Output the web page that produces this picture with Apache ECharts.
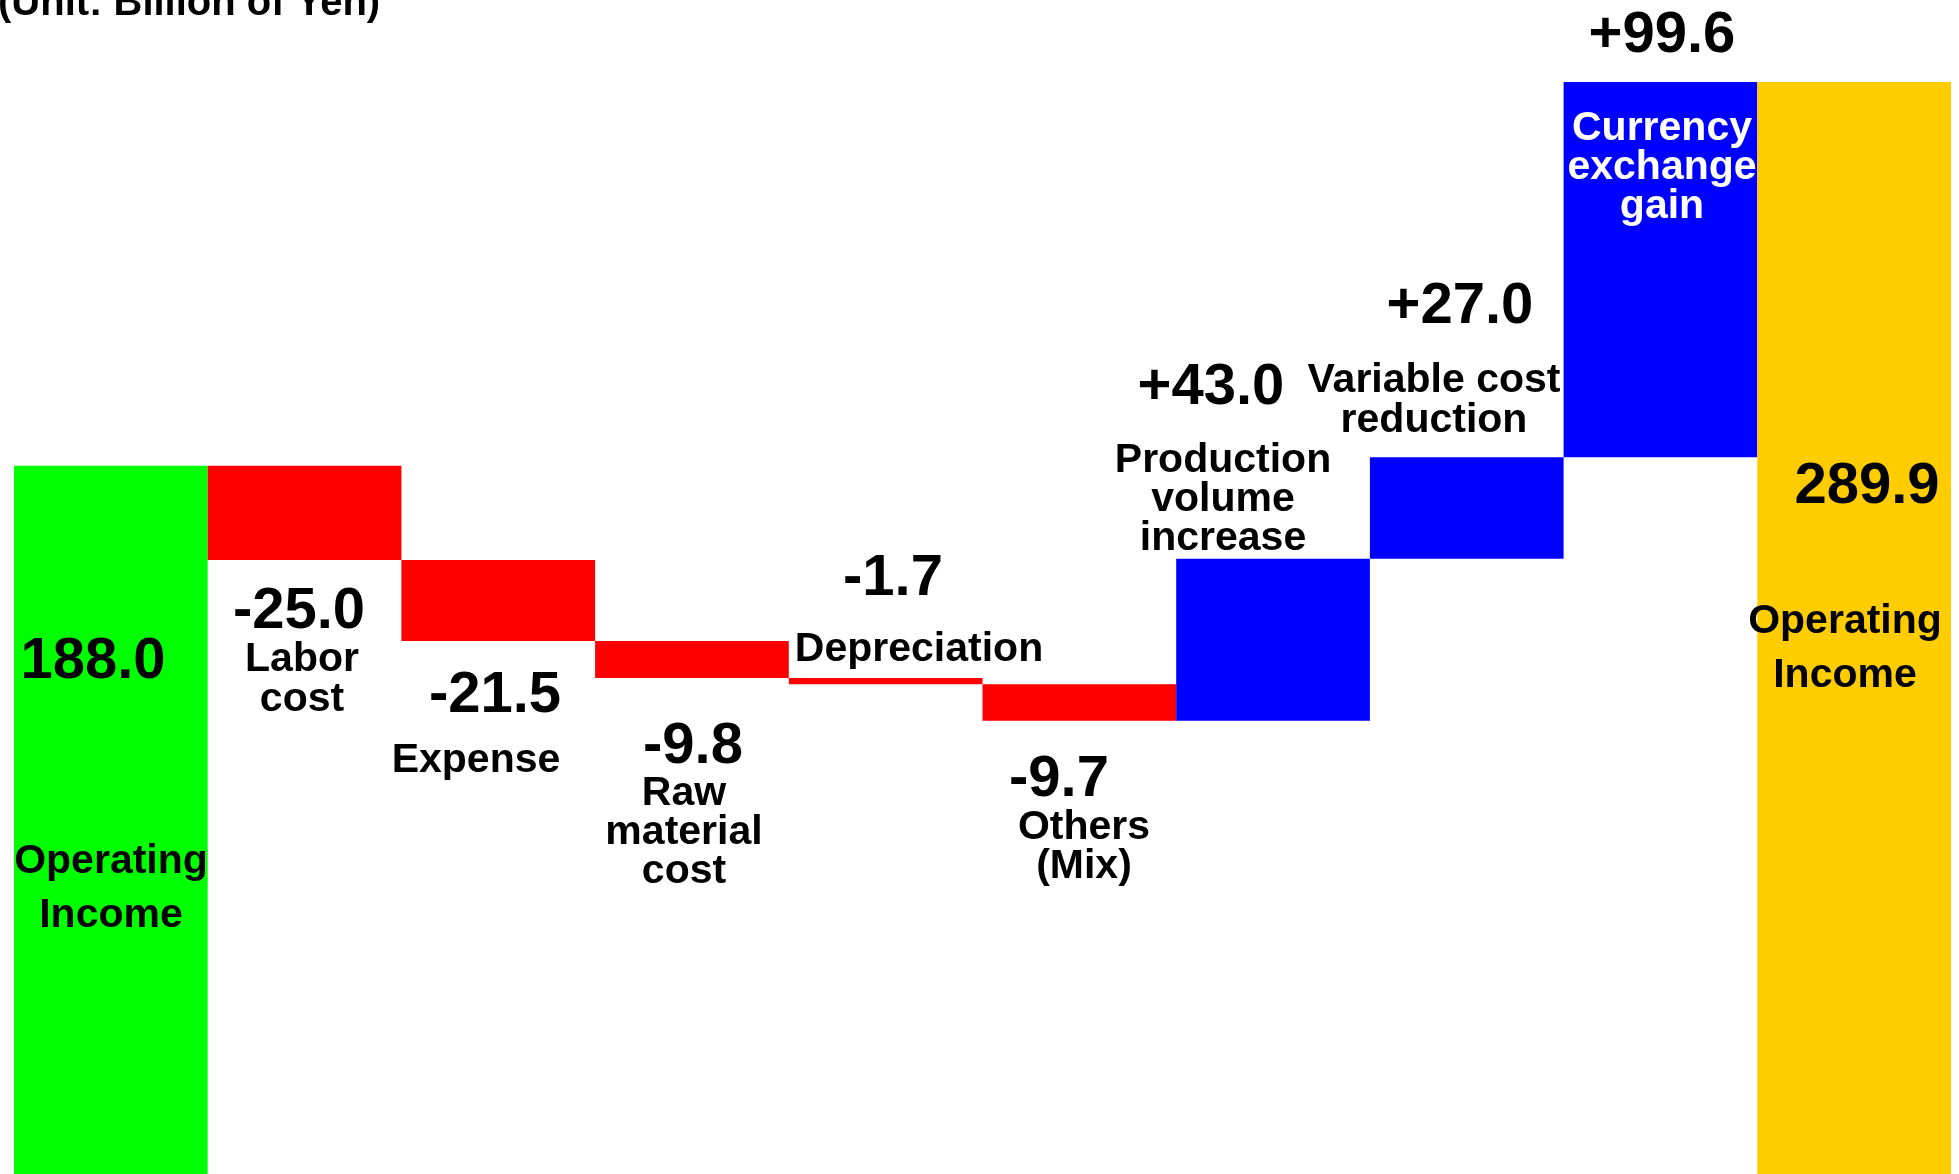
<!DOCTYPE html>
<html>
<head>
<meta charset="utf-8">
<script src="https://cdn.jsdelivr.net/npm/echarts@6/dist/echarts.min.js"></script>
<style>
  html, body { margin: 0; padding: 0; background: #fff; }
  #main { width: 1959px; height: 1174px; }
</style>
</head>
<body>
<div id="main"></div>
<script>
// data
const categories = ['Operating Income', 'Labor cost', 'Expense', 'Raw material cost', 'Depreciation',
  'Others (Mix)', 'Production volume increase', 'Variable cost reduction', 'Currency exchange gain', 'Operating Income'];
const startIncome = 188.0;
const changes = [-25.0, -21.5, -9.8, -1.7, -9.7, 43.0, 27.0, 99.6];
const endIncome = 289.9;
const nameTexts = ['Operating\nIncome', 'Labor\ncost', 'Expense', 'Raw\nmaterial\ncost', 'Depreciation',
  'Others\n(Mix)', 'Production\nvolume\nincrease', 'Variable cost\nreduction', 'Currency\nexchange\ngain', 'Operating\nIncome'];
const unitText = '(Unit: Billion of Yen)';

// label placement (pixels), one per category
const valuePos = [[93, 662], [299, 612], [495, 696], [693, 747], [893, 579], [1059, 780], [1211, 388], [1460, 307], [1662, 36], [1867, 487]];
const namePos = [[111, 889, 54], [302, 680, 40], [476, 761, 40], [684, 833, 39], [919, 650, 40],
  [1084, 847, 39], [1223, 500, 39], [1434, 401, 40], [1662, 168, 39], [1845, 649, 54]];

const FONT = '"Liberation Sans", Arial, sans-serif';

// build waterfall
const base = [0];
const height = [startIncome];
const colors = ['#00ff00'];
const valueTexts = [startIncome.toFixed(1)];
let level = startIncome;
changes.forEach(function (d) {
  if (d < 0) {
    base.push(+(level + d).toFixed(1));
    height.push(-d);
    colors.push('#ff0000');
  } else {
    base.push(+level.toFixed(1));
    height.push(d);
    colors.push('#0000ff');
  }
  valueTexts.push((d > 0 ? '+' : '') + d.toFixed(1));
  level += d;
});
base.push(0);
height.push(endIncome);
colors.push('#ffcc00');
valueTexts.push(endIncome.toFixed(1));

const chart = echarts.init(document.getElementById('main'));

const graphics = [{
  type: 'text', x: -2, y: 4,
  style: { text: unitText, font: 'bold 40px ' + FONT, fill: '#000', verticalAlign: 'middle', align: 'left' }
}];
valueTexts.forEach(function (t, i) {
  graphics.push({
    type: 'text', x: valuePos[i][0], y: valuePos[i][1], z: 10,
    style: { text: t, font: 'bold 58px ' + FONT, fill: '#000', align: 'center', verticalAlign: 'middle' }
  });
  graphics.push({
    type: 'text', x: namePos[i][0], y: namePos[i][1], z: 10,
    style: {
      text: nameTexts[i], font: 'bold 41px ' + FONT, lineHeight: namePos[i][2],
      fill: i === 8 ? '#fff' : '#000', align: 'center', verticalAlign: 'middle'
    }
  });
});

const option = {
  animation: false,
  backgroundColor: '#fff',
  grid: { left: 14, right: 8, top: 43.9, bottom: -3.3 },
  xAxis: { type: 'category', data: categories, show: false },
  yAxis: { type: 'value', min: 0, max: 300, show: false },
  series: [{
    type: 'bar',
    stack: 'wf',
    silent: true,
    barCategoryGap: '0%',
    itemStyle: { color: 'transparent' },
    data: base
  }, {
    type: 'bar',
    stack: 'wf',
    silent: true,
    barCategoryGap: '0%',
    data: height.map(function (v, i) {
      return { value: v, itemStyle: { color: colors[i] } };
    })
  }],
  graphic: graphics
};

chart.setOption(option);
</script>
</body>
</html>
